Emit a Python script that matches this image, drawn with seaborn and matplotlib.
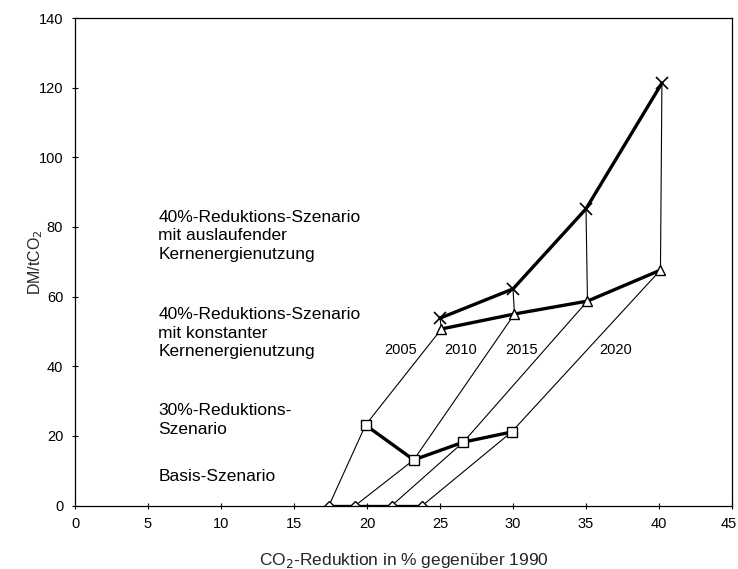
import matplotlib
matplotlib.use("Agg")
import matplotlib.pyplot as plt
import matplotlib.transforms as mtransforms
import seaborn as sns
import pandas as pd

sns.set_theme(style="white")
plt.rcParams['font.family'] = ['Liberation Sans', 'DejaVu Sans']

years = ["2005", "2010", "2015", "2020"]
basis_x = [17.4, 19.2, 21.7, 23.8]
basis_y = [0, 0, 0, 0]
s30_x = [19.9, 23.2, 26.6, 29.9]
s30_y = [23.1, 13.1, 18.2, 21.1]
s40k_x = [25.1, 30.1, 35.1, 40.1]
s40k_y = [50.7, 55.0, 58.7, 67.6]
s40a_x = [25.0, 30.0, 35.0, 40.2]
s40a_y = [53.8, 62.2, 85.2, 121.3]

scenario_labels = [
    "40%-Reduktions-Szenario\nmit auslaufender\nKernenergienutzung",
    "40%-Reduktions-Szenario\nmit konstanter\nKernenergienutzung",
    "30%-Reduktions-\nSzenario",
    "Basis-Szenario",
]
scenario_label_pos = [(5.7, 77.4), (5.7, 49.5), (5.7, 24.6), (5.7, 8.2)]
year_label_pos = [(22.3, 44.7), (26.4, 44.7), (30.6, 44.7), (37.0, 44.7)]

fig = plt.figure(figsize=(7.38, 5.69), dpi=100)
ax = fig.add_axes([75/738, 1-505.5/569, (732-75)/738, (505.5-18)/569])

# thin year lines: basis -> 30% -> 40% konstant -> 40% auslaufend
for i, yr in enumerate(years):
    df = pd.DataFrame({
        "x": [basis_x[i], s30_x[i], s40k_x[i], s40a_x[i]],
        "y": [basis_y[i], s30_y[i], s40k_y[i], s40a_y[i]],
    })
    sns.lineplot(data=df, x="x", y="y", sort=False, ax=ax, color="black",
                 linewidth=0.8, estimator=None)

series = [
    (basis_x, basis_y, "D", 5.5),
    (s30_x, s30_y, "s", 7),
    (s40k_x, s40k_y, "^", 7),
]
for xs, ys, mk, ms in series:
    df = pd.DataFrame({"x": xs, "y": ys})
    sns.lineplot(data=df, x="x", y="y", sort=False, ax=ax, color="black",
                 linewidth=2.4, estimator=None, marker=mk, markersize=ms,
                 markerfacecolor="white", markeredgecolor="black",
                 markeredgewidth=1.0)

df = pd.DataFrame({"x": s40a_x, "y": s40a_y})
sns.lineplot(data=df, x="x", y="y", sort=False, ax=ax, color="black",
             linewidth=2.4, estimator=None, marker="x", markersize=9,
             markeredgecolor="black", markeredgewidth=1.2)

for txt, (tx, ty) in zip(scenario_labels, scenario_label_pos):
    ax.text(tx, ty, txt, ha="left", va="center", fontsize=12.5,
            linespacing=1.3, color="black")
for yr, (tx, ty) in zip(years, year_label_pos):
    ax.text(tx, ty, yr, ha="center", va="center", fontsize=10.5, color="black")

ax.set_xlim(0, 45)
ax.set_ylim(0, 140)
ax.set_xticks(range(0, 46, 5))
ax.set_yticks(range(0, 141, 20))
ax.tick_params(axis="both", direction="inout", length=5, width=0.8,
               labelsize=10.5, colors="black", pad=6, left=True, bottom=True)
for s in ax.spines.values():
    s.set_color("black")
    s.set_linewidth(0.9)
    s.set_visible(True)
ax.set_xlabel("CO$_2$-Reduktion in % gegenüber 1990", fontsize=12.5, labelpad=14)
ax.set_ylabel("DM/tCO$_2$", fontsize=11.5)
ax.yaxis.set_label_coords(-0.046, 0.5)
ax.grid(False)

# keep the last x tick label inside the canvas
fig.canvas.draw()
last = ax.get_xticklabels()[-1]
last.set_horizontalalignment("right")
last.set_transform(last.get_transform() + mtransforms.ScaledTranslation(5/100, 0, fig.dpi_scale_trans))

fig.savefig("out.png", dpi=100)
